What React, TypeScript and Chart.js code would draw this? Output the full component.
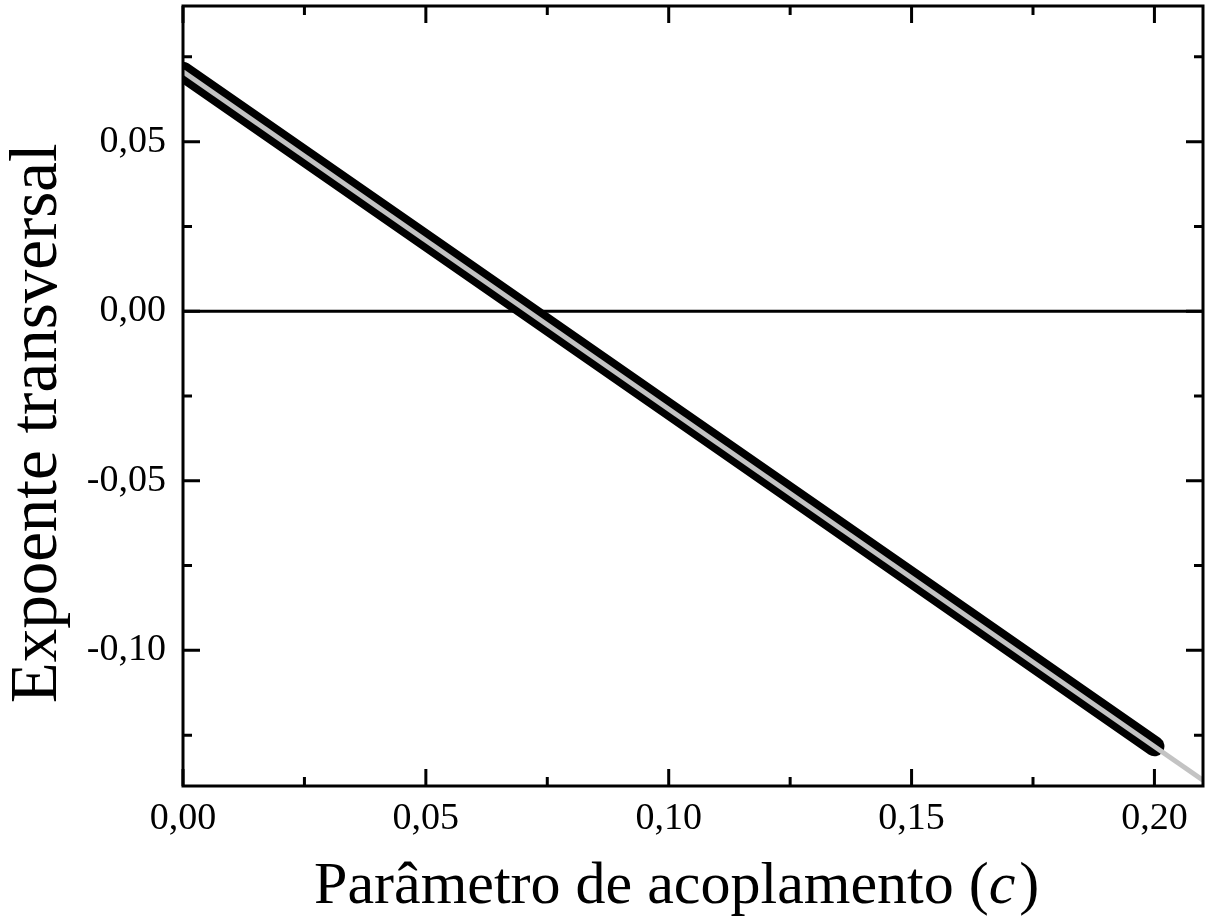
import React, { useEffect, useRef } from "react";
import { Chart, registerables } from "chart.js";

Chart.register(...registerables);

// ---- data ----
const couplingC = [0, 0.05, 0.1, 0.15, 0.2];
const transverseExponent = [0.0706, 0.0209, -0.0288, -0.0785, -0.1283];
const fitC = [0, 0.21];
const fitExponent = [0.0706, -0.1383];
const zeroLineC = [0, 0.21];
const zeroLineY = [0, 0];
const xMajorTicks = [0, 0.05, 0.1, 0.15, 0.2];
const xMinorTicks = [0.025, 0.075, 0.125, 0.175];
const yMajorTicks = [-0.1, -0.05, 0, 0.05];
const yMinorTicks = [-0.125, -0.075, -0.025, 0.025, 0.075];
const xTitleMain = "Parâmetro de acoplamento (";
const xTitleItalic = "c";
const xTitleEnd = ")";
const yTitle = "Expoente transversal";

const FONT = '"Liberation Serif", "Times New Roman", serif';

const fmt = (v: number) => {
  const r = Math.abs(v) < 1e-9 ? 0 : v;
  return r.toFixed(2).replace(".", ",");
};

const framePlugin = {
  id: "frameTicks",
  afterDraw(chart: any) {
    const { ctx, chartArea: a, scales } = chart;
    const xs = scales.x;
    const ys = scales.y;
    ctx.save();
    ctx.strokeStyle = "#000";
    ctx.lineWidth = 3;
    ctx.lineCap = "butt";
    const drawX = (vals: number[], len: number) => {
      for (const v of vals) {
        const px = xs.getPixelForValue(v);
        ctx.beginPath();
        ctx.moveTo(px, a.bottom);
        ctx.lineTo(px, a.bottom - len);
        ctx.moveTo(px, a.top);
        ctx.lineTo(px, a.top + len);
        ctx.stroke();
      }
    };
    const drawY = (vals: number[], len: number) => {
      for (const v of vals) {
        const py = ys.getPixelForValue(v);
        ctx.beginPath();
        ctx.moveTo(a.left, py);
        ctx.lineTo(a.left + len, py);
        ctx.moveTo(a.right, py);
        ctx.lineTo(a.right - len, py);
        ctx.stroke();
      }
    };
    drawX(xMajorTicks, 17);
    drawX(xMinorTicks, 9);
    drawY(yMajorTicks, 17);
    drawY(yMinorTicks, 9);
    ctx.lineCap = "square";
    ctx.strokeRect(a.left, a.top, a.right - a.left, a.bottom - a.top);

    // x title with italic c
    ctx.fillStyle = "#000";
    ctx.textBaseline = "alphabetic";
    ctx.textAlign = "left";
    const normal = `60px ${FONT}`;
    const italic = `italic 60px ${FONT}`;
    ctx.font = normal;
    const w1 = ctx.measureText(xTitleMain).width;
    const w3 = ctx.measureText(xTitleEnd).width;
    ctx.font = italic;
    const w2 = ctx.measureText(xTitleItalic).width;
    const total = w1 + w2 + w3 + 4;
    const cx = a.left + (a.right - a.left) * 0.484;
    let x0 = cx - total / 2;
    const by = a.bottom + 117;
    ctx.font = normal;
    ctx.fillText(xTitleMain, x0, by);
    x0 += w1;
    ctx.font = italic;
    ctx.fillText(xTitleItalic, x0, by);
    x0 += w2 + 4;
    ctx.font = normal;
    ctx.fillText(xTitleEnd, x0, by);

    // y title
    ctx.translate(56, a.top + (a.bottom - a.top) * 0.535);
    ctx.rotate(-Math.PI / 2);
    ctx.textAlign = "center";
    ctx.font = `67px ${FONT}`;
    ctx.fillText(yTitle, 0, 0);
    ctx.restore();
  },
};

export default function App() {
  const ref = useRef<HTMLCanvasElement | null>(null);
  useEffect(() => {
    if (!ref.current) return;
    const chart = new Chart(ref.current, {
      type: "line",
      data: {
        datasets: [
          {
            label: "zero",
            data: zeroLineC.map((c, i) => ({ x: c, y: zeroLineY[i] })),
            borderColor: "#000",
            borderWidth: 3,
            pointRadius: 0,
            clip: 0,
            order: 3,
          },
          {
            label: "expoente",
            data: couplingC.map((c, i) => ({ x: c, y: transverseExponent[i] })),
            borderColor: "#000",
            borderWidth: 20,
            borderCapStyle: "round",
            borderJoinStyle: "round",
            pointRadius: 0,
            clip: 0,
            order: 2,
          },
          {
            label: "ajuste",
            data: fitC.map((c, i) => ({ x: c, y: fitExponent[i] })),
            borderColor: "#c3c3c3",
            borderWidth: 5,
            pointRadius: 0,
            clip: 0,
            order: 1,
          },
        ],
      },
      options: {
        animation: false,
        responsive: false,
        maintainAspectRatio: false,
        layout: { padding: { top: 6, right: 5, left: 0, bottom: 0 } },
        plugins: {
          legend: { display: false },
          tooltip: { enabled: false },
          title: { display: false },
        },
        scales: {
          x: {
            type: "linear",
            min: 0,
            max: 0.21,
            grid: { display: false, drawTicks: false },
            border: { display: false },
            afterBuildTicks: (s: any) => {
              s.ticks = xMajorTicks.map((v) => ({ value: v }));
            },
            afterFit: (s: any) => {
              s.height = 134;
              s.paddingLeft = 0;
              s.paddingRight = 0;
            },
            ticks: {
              padding: 10,
              color: "#000",
              font: { family: FONT, size: 38 },
              maxRotation: 0,
              autoSkip: false,
              callback: (v: any) => fmt(Number(v)),
            },
          },
          y: {
            type: "linear",
            min: -0.14,
            max: 0.09,
            grid: { display: false, drawTicks: false },
            border: { display: false },
            afterBuildTicks: (s: any) => {
              s.ticks = yMajorTicks.map((v) => ({ value: v }));
            },
            afterFit: (s: any) => {
              s.width = 183;
              s.paddingTop = 0;
              s.paddingBottom = 0;
            },
            ticks: {
              padding: 17,
              color: "#000",
              font: { family: FONT, size: 38 },
              autoSkip: false,
              callback: (v: any) => fmt(Number(v)),
            },
          },
        },
      },
      plugins: [framePlugin],
    });
    return () => chart.destroy();
  }, []);
  return (
    <div style={{ position: "fixed", left: 0, top: 0, width: 1208, height: 920, background: "#fff" }}>
      <canvas ref={ref} width={1208} height={920} style={{ display: "block", width: 1208, height: 920 }} />
    </div>
  );
}
